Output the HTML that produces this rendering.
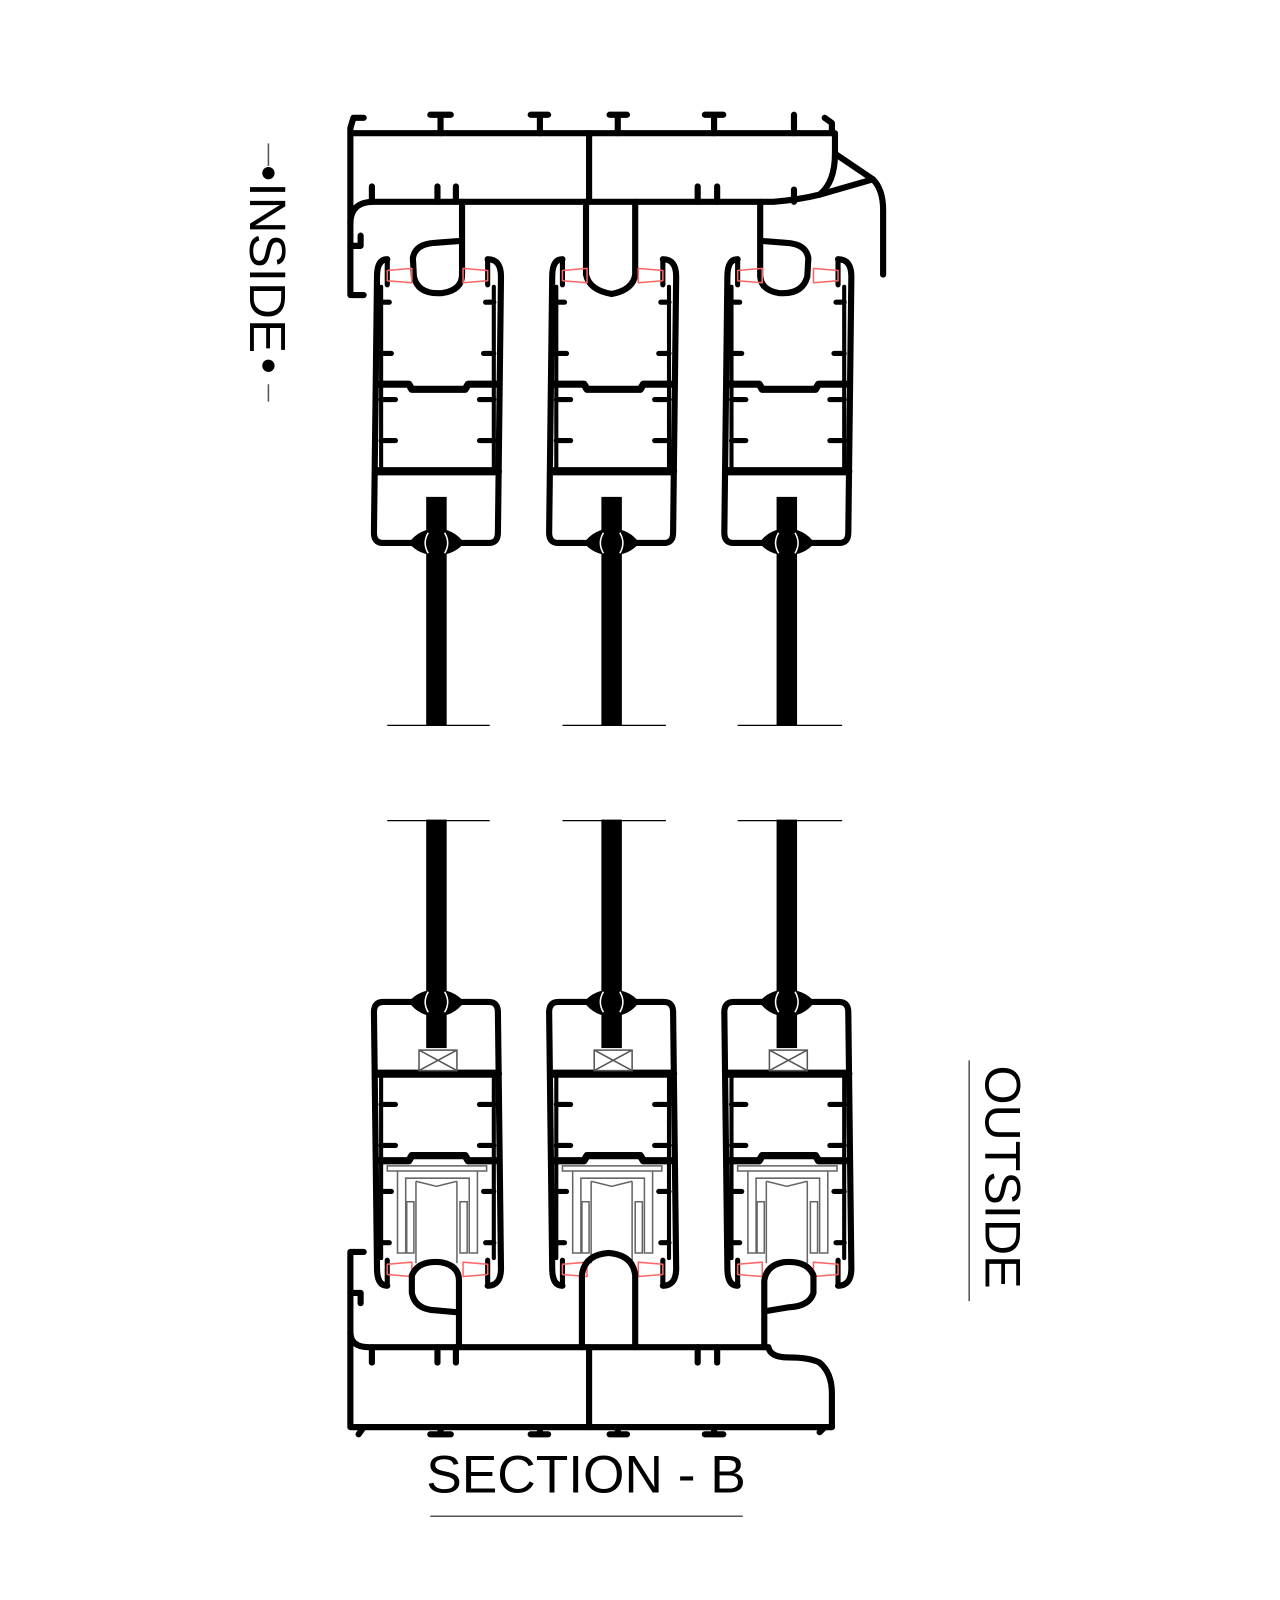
<!DOCTYPE html>
<html><head><meta charset="utf-8"><style>
html,body{margin:0;padding:0;background:#fff}
svg{display:block}
text{font-family:"Liberation Sans",sans-serif;fill:#000}
</style></head><body>
<svg width="1280" height="1600" viewBox="0 0 1280 1600" xmlns="http://www.w3.org/2000/svg">
<defs>
<g id="sashTop" fill="none" stroke="#000" stroke-linejoin="round" stroke-linecap="round">
  <path d="M14,3 Q4,3 4,20 L1,270 Q1,280 10,280 L113,280 Q122,280 122,270 L125,20 Q125,3 112,3" stroke-width="6"/>
  <path d="M14,3 L14,28 M112,3 L112,28" stroke-width="5"/>
  <path d="M8,30 L8,210 M118,30 L118,210" stroke-width="4"/>
  <path d="M8,45 L16,45 M118,45 L110,45 M8,95 L18,95 M118,95 L108,95 M8,140 L22,140 M118,140 L104,140 M8,180 L22,180 M118,180 L104,180" stroke-width="5"/>
  <path d="M5,125 L35,125 L38,130 L90,130 L93,125 L120,125" stroke-width="7"/>
  <path d="M4,210 L122,210" stroke-width="8"/>
  <path d="M14,14 L38,12 L38,26 L14,24 Z M88,12 L112,14 L112,24 L88,26 Z" stroke="#f66" stroke-width="1.5"/>
</g>
<g id="glassTop">
  <rect x="52" y="235" width="20" height="223" fill="#000"/>
  <path d="M35,280 Q45,266 62,266 Q79,266 89,280 Q79,292 62,292 Q45,292 35,280 Z" fill="#000"/>
  <path d="M54,270 Q48,280 54,290 M70,270 Q76,280 70,290" stroke="#fff" stroke-width="1.5" fill="none"/>
</g>
<g id="hw" fill="none" stroke="#666" stroke-width="1.5">
  <rect x="14" y="160" width="97" height="5"/>
  <path d="M24,165 L24,245 L32,245 L32,172 L94,172 L94,245 L102,245 L102,165"/>
  <path d="M42,175 L42,255 M82,175 L82,255 M42,175 L62,180 L82,175"/>
  <rect x="33" y="195" width="7" height="50"/>
  <rect x="85" y="195" width="7" height="50"/>
</g>
</defs>

<g transform="scale(1.0245)">
<!-- TOP FRAME -->
<g fill="none" stroke="#000" stroke-width="6" stroke-linejoin="round" stroke-linecap="round">
  <path d="M355,115 L345,115 L342,125 L342,288 L355,288"/>
  <path d="M342,240 L352,240 L352,230"/>
  <path d="M342,130 L812,130 L812,120 L805,115"/>
  <path d="M342,218 Q342,197 365,197 L755,197 Q780,195 800,190 Q815,178 815,150 L815,130"/>
  <path d="M815,150 L852,175 Q862,185 862,205 L862,268"/>
  <path d="M800,190 L852,175"/>
  <path d="M575,130 L575,197"/>
  <path d="M420,112 L440,112 M430,112 L430,130 M518,112 L535,112 M527,112 L527,130 M595,112 L612,112 M603,112 L603,130 M688,112 L706,112 M697,112 L697,130 M775,112 L775,130"/>
  <path d="M363,182 L363,197 M427,182 L427,197 M445,182 L445,197 M681,182 L681,197 M700,182 L700,197 M775,185 L775,197"/>
  <path d="M451,197 L451,268 Q451,283 432,286 Q408,288 404,270 L403,252 Q405,238 425,237 L451,235"/>
  <path d="M572,197 L572,268 Q575,283 597,287 Q618,283 620,268 L620,197"/>
  <path d="M742,197 L742,268 Q742,283 760,286 Q783,288 788,270 L789,252 Q787,238 767,237 L742,235"/>
</g>

<use href="#sashTop" x="364" y="250"/>
<use href="#sashTop" x="535" y="250"/>
<use href="#sashTop" x="706" y="250"/>
<use href="#glassTop" x="364" y="250"/>
<use href="#glassTop" x="535" y="250"/>
<use href="#glassTop" x="706" y="250"/>

<g stroke="#000" stroke-width="1.2">
  <path d="M378,708 L478,708 M549,708 L650,708 M720,708 L822,708 M378,801 L478,801 M549,801 L650,801 M720,801 L822,801"/>
</g>

<g transform="translate(0,1258) scale(1,-1)">
  <use href="#sashTop" x="364" y="0"/>
  <use href="#sashTop" x="535" y="0"/>
  <use href="#sashTop" x="706" y="0"/>
  <use href="#glassTop" x="364" y="0"/>
  <use href="#glassTop" x="535" y="0"/>
  <use href="#glassTop" x="706" y="0"/>
</g>
<use href="#hw" x="364" y="978"/>
<use href="#hw" x="535" y="978"/>
<use href="#hw" x="706" y="978"/>
<g fill="#fff" stroke="#555" stroke-width="1.5">
  <rect x="409" y="1025" width="37" height="20"/>
  <path d="M409,1025 L446,1045 M446,1025 L409,1045" fill="none"/>
  <rect x="580" y="1025" width="37" height="20"/>
  <path d="M580,1025 L617,1045 M617,1025 L580,1045" fill="none"/>
  <rect x="751" y="1025" width="37" height="20"/>
  <path d="M751,1025 L788,1045 M788,1025 L751,1045" fill="none"/>
</g>

<!-- BOTTOM FRAME -->
<g fill="none" stroke="#000" stroke-width="6" stroke-linejoin="round" stroke-linecap="round">
  <path d="M355,1222 L342,1222 L342,1393 L812,1393"/>
  <path d="M342,1262 L352,1262 L352,1272 M342,1300 Q342,1315 360,1315 L750,1315 Q752,1325 770,1325 Q790,1325 800,1330 Q812,1340 812,1360 L812,1393"/>
  <path d="M575,1315 L575,1393"/>
  <path d="M350,1400 L355,1393 M420,1400 L440,1400 M430,1393 L430,1400 M518,1400 L535,1400 M527,1393 L527,1400 M595,1400 L612,1400 M603,1393 L603,1400 M688,1400 L706,1400 M697,1393 L697,1400 M800,1398 L805,1393"/>
  <path d="M363,1315 L363,1330 M427,1315 L427,1330 M445,1315 L445,1330 M681,1315 L681,1330 M700,1315 L700,1330"/>
  <path d="M448,1315 L448,1250 Q448,1235 430,1232 Q408,1230 402,1245 L402,1262 Q405,1278 425,1279 L448,1281"/>
  <path d="M568,1315 L568,1245 Q570,1225 594,1223 Q618,1225 620,1245 L620,1315"/>
  <path d="M746,1315 L746,1250 Q748,1235 765,1232 Q788,1230 794,1245 L794,1262 Q790,1275 770,1276 L746,1280"/>
</g>

<!-- LABELS -->
<g stroke="#555" stroke-width="1.5">
  <path d="M262,140 L262,162 M262,375 L262,392"/>
  <path d="M946,1035 L946,1270"/>
  <path d="M420,1480 L725,1480"/>
</g>
<circle cx="262" cy="169" r="6" fill="#000"/>
<circle cx="262" cy="357" r="6" fill="#000"/>
<text transform="translate(244,178) rotate(90)" font-size="50">INSIDE</text>
<text transform="translate(962,1040) rotate(90)" font-size="49">OUTSIDE</text>
<text x="572" y="1457" font-size="52" text-anchor="middle">SECTION - B</text>
</g>
</svg>
</body></html>
